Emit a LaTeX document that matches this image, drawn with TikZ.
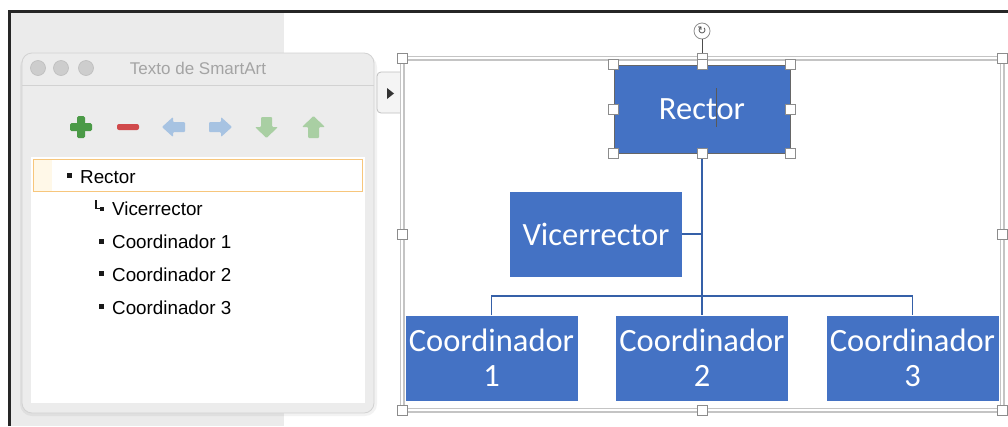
\documentclass[tikz,border=0pt]{standalone}
\usepackage{fontspec}
\setmainfont{Carlito}
\newfontfamily\uifont{Liberation Sans}
\newfontfamily\symfont{DejaVu Sans}
\usetikzlibrary{arrows.meta}
\definecolor{boxblue}{HTML}{4472C4}
\definecolor{linkblue}{HTML}{3560A8}
\definecolor{bggray}{HTML}{EBEBEB}
\definecolor{panelgray}{HTML}{ECECEC}
\definecolor{panelborder}{HTML}{D2D2D2}
\definecolor{lightfill}{HTML}{CDCDCD}
\definecolor{lightborder}{HTML}{BDBDBD}
\definecolor{titlegray}{HTML}{A4A4A4}
\definecolor{plusgreen}{HTML}{4B9A47}
\definecolor{minusred}{HTML}{D0494B}
\definecolor{arrowblue}{HTML}{A7C3E2}
\definecolor{arrowgreen}{HTML}{A9CFA3}
\definecolor{selorange}{HTML}{F7C67C}
\definecolor{cream}{HTML}{FFF8E8}
\definecolor{framegray}{HTML}{C4C4C4}
\definecolor{handlegray}{HTML}{8C8C8C}
\tikzset{
  orgbox/.style={rectangle, fill=boxblue, text=white, font=\fontsize{32.5}{35}\selectfont,
    align=center, inner sep=0pt, minimum width=172pt, minimum height=85pt},
  link/.style={draw=linkblue, line width=1.3pt},
  handle/.style={rectangle, draw=handlegray, fill=white, minimum size=10pt, inner sep=0pt, line width=0.8pt},
  listtext/.style={anchor=base west, inner sep=0pt, font=\uifont\fontsize{18.8}{20}\selectfont, text=black},
  bulletsq/.style={rectangle, fill=black!90, minimum size=5pt, inner sep=0pt},
  light/.style={circle, fill=lightfill, draw=lightborder, line width=0.6pt, minimum size=15pt, inner sep=0pt}
}
\begin{document}
\begin{tikzpicture}[x=1pt,y=-1pt]
\useasboundingbox (0,0) rectangle (1008,426);
\fill[white] (0,0) rectangle (1008,426);
% app background
\fill[bggray] (10,12) rectangle (284,426);
\draw[line width=3pt, black!85] (9.5,426) -- (9.5,11.5) -- (1008,11.5);

% SmartArt text panel
\fill[black, opacity=0.05, rounded corners=12pt] (20,55) rectangle (377,416);
\filldraw[fill=panelgray, draw=panelborder, line width=0.8pt, rounded corners=10pt] (22,53) rectangle (374,413);
\draw[panelborder, line width=0.8pt] (22,85) -- (374,85);
\node[light] (l1) at (38,68) {};
\node[light] (l2) at (61,68) {};
\node[light] (l3) at (86,68) {};
\node[font=\uifont\fontsize{17}{20}\selectfont, text=titlegray, inner sep=0pt] (title) at (198,68) {Texto de SmartArt};

% toolbar icons
\fill[plusgreen, rounded corners=1.5pt] (77,116) rectangle (85,138);
\fill[plusgreen, rounded corners=1.5pt] (70,123) rectangle (92,131);
\fill[minusred, rounded corners=2pt] (117,124) rectangle (139,130);
\fill[arrowblue, rounded corners=1pt] (162,127) -- (173,117) -- (173,122) -- (185,122) -- (185,132) -- (173,132) -- (173,137) -- cycle;
\fill[arrowblue, rounded corners=1pt] (232,127) -- (221,117) -- (221,122) -- (209,122) -- (209,132) -- (221,132) -- (221,137) -- cycle;
\fill[arrowgreen, rounded corners=1pt] (266.5,138) -- (255,127) -- (261,127) -- (261,117) -- (272,117) -- (272,127) -- (278,127) -- cycle;
\fill[arrowgreen, rounded corners=1pt] (313.5,116) -- (302,127) -- (308,127) -- (308,138) -- (319,138) -- (319,127) -- (325,127) -- cycle;

% list area
\fill[white] (31,157) rectangle (365,403);
\fill[cream] (34,160) rectangle (52,191);
\draw[selorange, line width=1.2pt] (33.5,159.5) rectangle (362.5,191.5);
\node[bulletsq] (b0) at (69.5,175.5) {};
\node[listtext] (t0) at (80,183) {Rector};
\draw[black!90, line width=1.1pt] (96,200) -- (96,208.5) -- (100,208.5);
\fill[black!90] (100,206.5) rectangle (104,210.5);
\node[listtext] (t1) at (112,215) {Vicerrector};
\node[bulletsq] (b2) at (101.5,241) {};
\node[listtext] (t2) at (112,248.5) {Coordinador 1};
\node[bulletsq] (b3) at (101.5,273.5) {};
\node[listtext] (t3) at (112,281) {Coordinador 2};
\node[bulletsq] (b4) at (101.5,306.5) {};
\node[listtext] (t4) at (112,314) {Coordinador 3};

% side tab
\filldraw[fill=panelgray!60, draw=black!25, line width=0.8pt, rounded corners=4pt] (401,72) -- (377,72) -- (377,113) -- (401,113);
\fill[black!80] (387,88) -- (394,93.5) -- (387,99) -- cycle;

% SmartArt frame
\draw[framegray, line width=5pt] (402,58) rectangle (1002,410);
\draw[white, line width=2.6pt] (402,58) rectangle (1002,410);

% org chart boxes
\node[orgbox, minimum width=176pt, minimum height=88pt, draw=black!60, line width=0.8pt] (rector) at (702,109) {Rector};
\node[orgbox] (vice) at (596,234) {Vicerrector};
\node[orgbox] (c1) at (491.5,358) {Coordinador\\1};
\node[orgbox] (c2) at (702,358) {Coordinador\\2};
\node[orgbox] (c3) at (912.5,358) {Coordinador\\3};

% connectors
\coordinate (vj) at (rector.south |- vice.east);
\coordinate (bus) at (702,296);
\draw[link] (rector.south) -- (c2.north);
\draw[link] (vice.east) -- (vj);
\draw[link] (c1.north) |- (bus) -| (c3.north);

% text cursor
\draw[black!65, line width=0.8pt] (716,88) -- (716,127);

% frame handles
\node[handle] (fh1) at (402,58) {};
\node[handle] (fh2) at (702,58) {};
\node[handle] (fh3) at (1002,58) {};
\node[handle] (fh4) at (402,234) {};
\node[handle] (fh5) at (1002,234) {};
\node[handle] (fh6) at (402,410) {};
\node[handle] (fh7) at (702,410) {};
\node[handle] (fh8) at (1002,410) {};
% rotation handle
\node[circle, draw=handlegray, fill=white, line width=0.8pt, minimum size=16pt, inner sep=0pt,
      font=\symfont\fontsize{11}{11}\selectfont, text=black!70] (rot) at (702,31) {↻};
\draw[black!70, line width=0.8pt] (rot.south) -- (fh2.north);

% box handles
\node[handle] (bh1) at (rector.north west) {};
\node[handle] (bh2) at (rector.north) {};
\node[handle] (bh3) at (rector.north east) {};
\node[handle] (bh4) at (rector.west) {};
\node[handle] (bh5) at (rector.east) {};
\node[handle] (bh6) at (rector.south west) {};
\node[handle] (bh7) at (rector.south) {};
\node[handle] (bh8) at (rector.south east) {};
\end{tikzpicture}
\end{document}
